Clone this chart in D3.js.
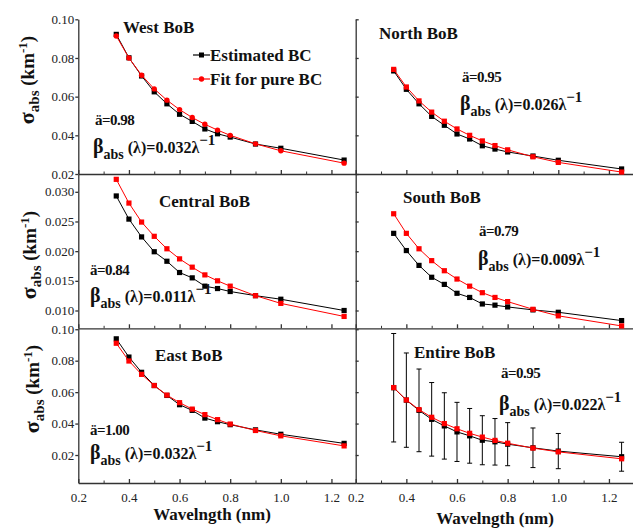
<!DOCTYPE html>
<html><head><meta charset="utf-8">
<script src="https://cdn.jsdelivr.net/npm/d3@7"></script>
</head><body style="margin:0"><svg id="c" width="633" height="529" style="display:block;font-family:'Liberation Serif'" font-family="Liberation Serif"></svg>
<script>
// ---- data ----
const wavelengths = [0.35,0.40,0.45,0.50,0.55,0.60,0.65,0.70,0.75,0.80,0.90,1.00,1.25];
const westEst    = [0.0922,0.0801,0.0707,0.0625,0.0563,0.0509,0.0472,0.0433,0.0408,0.0391,0.0355,0.0333,0.0272];
const westFit    = [0.0914,0.0800,0.0711,0.0640,0.0582,0.0533,0.0492,0.0457,0.0427,0.0400,0.0356,0.0320,0.0256];
const northEst   = [0.0733,0.0638,0.0563,0.0498,0.0452,0.0407,0.0381,0.0346,0.0329,0.0314,0.0293,0.0271,0.0226];
const northFit   = [0.0741,0.0650,0.0578,0.0520,0.0473,0.0433,0.0400,0.0371,0.0347,0.0325,0.0289,0.0260,0.0210];
const centralEst = [0.0293,0.0254,0.0224,0.0199,0.0183,0.0164,0.0155,0.0141,0.0137,0.0132,0.0125,0.0119,0.0100];
const centralFit = [0.0321,0.0281,0.0249,0.0225,0.0204,0.0187,0.0173,0.0160,0.0150,0.0141,0.0125,0.0112,0.0090];
const southEst   = [0.0230,0.0201,0.0176,0.0156,0.0144,0.0129,0.0122,0.0111,0.0109,0.0106,0.0101,0.0097,0.0083];
const southFit   = [0.0263,0.0230,0.0204,0.0184,0.0167,0.0153,0.0141,0.0130,0.0122,0.0115,0.0102,0.0091,0.0074];
const eastEst    = [0.0939,0.0823,0.0726,0.0642,0.0579,0.0520,0.0484,0.0435,0.0412,0.0393,0.0360,0.0332,0.0274];
const eastFit    = [0.0911,0.0798,0.0713,0.0642,0.0581,0.0533,0.0492,0.0457,0.0425,0.0397,0.0356,0.0322,0.0258];
const entireEst  = [0.0628,0.0549,0.0484,0.0427,0.0385,0.0347,0.0322,0.0294,0.0284,0.0269,0.0246,0.0225,0.0189];
const entireFit  = [0.0629,0.0550,0.0489,0.0440,0.0400,0.0367,0.0338,0.0314,0.0293,0.0275,0.0244,0.0220,0.0176];
const entireErr  = [0.0345,0.0300,0.0263,0.0234,0.0211,0.0188,0.0174,0.0156,0.0148,0.0137,0.0126,0.0112,0.0092];
const panelTitles = ["West BoB","North BoB","Central BoB","South BoB","East BoB","Entire BoB"];
const alphaTexts  = ["ä=0.98","ä=0.95","ä=0.84","ä=0.79","ä=1.00","ä=0.95"];
const betaCoefs   = ["0.032","0.026","0.011","0.009","0.032","0.022"];
const xTicks = [0.2,0.4,0.6,0.8,1.0,1.2];
const xMinor = [0.3,0.5,0.7,0.9,1.1];
const yTicksTop = [0.02,0.04,0.06,0.08,0.10];
const yTicksMid = [0.010,0.015,0.020,0.025,0.030];
const yTicksBot = [0.02,0.04,0.06,0.08,0.10];
const legendLabels = ["Estimated BC","Fit for pure BC"];

// ---- layout ----
const svg = d3.select("#c");
const F = s => s.style("font-family",'"Liberation Serif"');
const cols = [{x0:78.3,x1:355.5},{x0:355.7,x1:633}];
const rows = [
  {y0:19.3,y1:174,dom:[0.02,0.10],ticks:yTicksTop,fmt:d3.format(".2f")},
  {y0:174,y1:328.3,dom:[0.007,0.033],ticks:yTicksMid,fmt:d3.format(".3f")},
  {y0:328.3,y1:483,dom:[0.0022,0.1006],ticks:yTicksBot,fmt:d3.format(".2f")}
];
const panels = [
  {r:0,c:0,est:westEst,fit:westFit,circ:true, title:[123,33], alpha:[95,125], beta:[93,153]},
  {r:0,c:1,est:northEst,fit:northFit, title:[379,39], alpha:[462,82], beta:[460,110]},
  {r:1,c:0,est:centralEst,fit:centralFit, title:[159,207], alpha:[90,275], beta:[90,302]},
  {r:1,c:1,est:southEst,fit:southFit, title:[403,203], alpha:[479,236], beta:[478,265]},
  {r:2,c:0,est:eastEst,fit:eastFit, title:[155,361], alpha:[90,435], beta:[90,459]},
  {r:2,c:1,est:entireEst,fit:entireFit,err:entireErr, title:[414,358], alpha:[501,378], beta:[499,410]}
];
const axCol = "#333";

panels.forEach((p,i)=>{
  const C = cols[p.c], R = rows[p.r];
  const x = d3.scaleLinear().domain([0.2,1.295]).range([C.x0,C.x1]);
  const y = d3.scaleLinear().domain(R.dom).range([R.y1,R.y0]);
  const g = svg.append("g");

  const xa = g.append("g").attr("transform",`translate(0,${R.y1})`);
  if (p.r===2) {
    xa.call(d3.axisBottom(x).tickValues(xTicks).tickFormat(d3.format(".1f")).tickSizeInner(-4).tickSizeOuter(0).tickPadding(10));
  } else {
    xa.call(d3.axisBottom(x).tickValues(xTicks).tickFormat("").tickSizeInner(-4).tickSizeOuter(0));
  }
  g.append("g").attr("transform",`translate(0,${R.y1})`)
    .call(d3.axisBottom(x).tickValues(xMinor).tickFormat("").tickSizeInner(-2.5).tickSizeOuter(0))
    .call(s=>s.select(".domain").remove());

  const ya = g.append("g").attr("transform",`translate(${C.x0},0)`);
  if (p.c===0) {
    ya.call(d3.axisLeft(y).tickValues(R.ticks).tickFormat(R.fmt).tickSizeInner(3).tickSizeOuter(0).tickPadding(1));
  } else {
    ya.call(d3.axisRight(y).tickValues(R.ticks).tickFormat("").tickSizeInner(3).tickSizeOuter(0));
  }
  [xa,ya].forEach(a=>{
    a.attr("font-family","Liberation Serif");
    a.selectAll("path,line").attr("stroke",axCol).attr("stroke-width",1.3);
    F(a.selectAll("text").attr("font-size",13).attr("fill","#222"));
  });
  g.selectAll("line").attr("stroke",axCol);

  if (p.err) {
    const eb = g.append("g").attr("stroke","#000").attr("stroke-width",1);
    wavelengths.forEach((w,k)=>{
      const lo = y(p.est[k]-p.err[k]), hi = y(p.est[k]+p.err[k]), cx = x(w);
      eb.append("line").attr("x1",cx).attr("x2",cx).attr("y1",lo).attr("y2",hi);
      eb.append("line").attr("x1",cx-2.5).attr("x2",cx+2.5).attr("y1",lo).attr("y2",lo);
      eb.append("line").attr("x1",cx-2.5).attr("x2",cx+2.5).attr("y1",hi).attr("y2",hi);
    });
  }

  const line = d3.line().x((d,k)=>x(wavelengths[k])).y(d=>y(d));
  [[p.est,"#000",false],[p.fit,"#ff0000",!!p.circ]].forEach(([vals,col,circ])=>{
    g.append("path").datum(vals).attr("d",line).attr("fill","none").attr("stroke",col).attr("stroke-width",1);
    if (circ) {
      g.selectAll(null).data(vals).enter().append("circle")
        .attr("cx",(d,k)=>x(wavelengths[k])).attr("cy",d=>y(d)).attr("r",2.7).attr("fill",col);
    } else {
      g.selectAll(null).data(vals).enter().append("rect")
        .attr("x",(d,k)=>x(wavelengths[k])-2.6).attr("y",d=>y(d)-2.6)
        .attr("width",5.2).attr("height",5.2).attr("fill",col);
    }
  });

  F(g.append("text")).attr("x",p.title[0]).attr("y",p.title[1]).attr("font-size",17).attr("font-weight","bold")
    .attr("fill","#111").text(panelTitles[i]);
  F(g.append("text")).attr("x",p.alpha[0]).attr("y",p.alpha[1]).attr("font-size",15).attr("font-weight","bold")
    .attr("letter-spacing",-0.5).attr("fill","#111").text(alphaTexts[i]);
  const bt = F(g.append("text")).attr("x",p.beta[0]).attr("y",p.beta[1]).attr("font-weight","bold").attr("fill","#111");
  bt.append("tspan").attr("font-size",20).text("β");
  bt.append("tspan").attr("font-size",14).attr("dy",6).text("abs");
  bt.append("tspan").attr("font-size",16).attr("dy",-6).text(" (λ)="+betaCoefs[i]+"λ");
  bt.append("tspan").attr("font-size",15).attr("dy",-8).text("−1");
});

// y axis titles
[[27,80],[29,255],[32,389]].forEach(([cx,cy])=>{
  const t = F(svg.append("text")).attr("transform",`translate(${cx+7},${cy}) rotate(-90)`)
    .attr("text-anchor","middle").attr("font-weight","bold").attr("fill","#111");
  t.append("tspan").attr("font-size",22).text("σ");
  t.append("tspan").attr("font-size",15).attr("dy",5).text("abs");
  t.append("tspan").attr("font-size",19).attr("dy",-5).text(" (km");
  t.append("tspan").attr("font-size",13).attr("dy",-7).text("-1");
  t.append("tspan").attr("font-size",19).attr("dy",7).text(")");
});

// x axis titles
[[212,520],[495,524]].forEach(([cx,cy])=>{
  F(svg.append("text")).attr("x",cx).attr("y",cy).attr("text-anchor","middle").attr("font-size",17)
    .attr("font-weight","bold").attr("fill","#111").text("Wavelngth (nm)");
});

// legend
const lg = svg.append("g");
legendLabels.forEach((lab,k)=>{
  const ly = 55 + k*24, col = k===0 ? "#000" : "#ff0000";
  lg.append("line").attr("x1",193).attr("x2",210).attr("y1",ly).attr("y2",ly).attr("stroke",col).attr("stroke-width",1.2);
  if (k===0) lg.append("rect").attr("x",199).attr("y",ly-2.5).attr("width",5).attr("height",5).attr("fill",col);
  else lg.append("circle").attr("cx",201.5).attr("cy",ly).attr("r",2.7).attr("fill",col);
  F(lg.append("text")).attr("x",210).attr("y",ly+6).attr("font-size",17).attr("font-weight","bold")
    .attr("fill","#111").text(lab);
});
</script></body></html>
